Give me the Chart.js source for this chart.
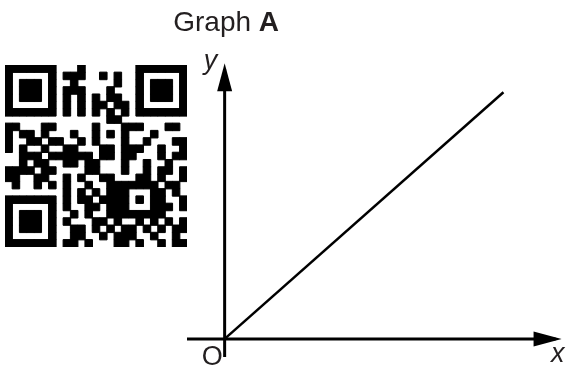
<!DOCTYPE html>
<html>
<head>
<meta charset="utf-8">
<script src="https://cdn.jsdelivr.net/npm/chart.js@4.4.1/dist/chart.umd.min.js"></script>
<style>
  body { margin: 0; background: #fff; }
  #wrap { position: relative; width: 570px; height: 372px; }
  #graph { position: absolute; left: 0; top: 0; }
  #qr { position: absolute; left: 5px; top: 65px; }
</style>
</head>
<body>
<div id="wrap">
  <canvas id="graph" width="570" height="372"></canvas>
  <canvas id="qr" width="182" height="182"></canvas>
</div>
<script>
// QR code modules, one string per row, 1 = dark
const qrRows = [
  '1111111000100000001111111',
  '1000001011100101001000001',
  '1011101001000001001011101',
  '1011101011100010001011101',
  '1011101010101011001011101',
  '1000001010101101101000001',
  '1111111010101010101111111',
  '0000000000000011000000000',
  '1100011000001000111000110',
  '1011010001001010100010000',
  '1001101100101000100100011',
  '1010010011000110111001001',
  '0011101111110110110001011',
  '0010110011011000100100100',
  '1111011000011000100101101',
  '1100110010100110001101001',
  '0100101010010011111110110',
  '0000000010101011100011010',
  '1111111010110111101011001',
  '1000001010011011100011101',
  '1011101001010011111111000',
  '1011101010001101001010101',
  '1011101001101010110101011',
  '1000001001100101110010010',
  '1111111011010001101001011'
];

// Graph A, in graph units (origin at 0,0)
const xRange = [-1.35, 12.1];
const yRange = [-0.65, 9.9];
const xAxisLine = [-1.35, 11.87]; // drawn along y = 0
const yAxisLine = [-0.65, 9.68];  // drawn along x = 0
const lineX = [0, 10];
const lineY = [0, 8.85];

const titleText = 'Graph ';
const titleBold = 'A';
const xLabel = 'x';
const yLabel = 'y';
const originLabel = 'O';

const FONT = "'Liberation Sans', Arial, sans-serif";
const TEXT_COLOR = '#231f20';

// filled arrow head at the last point of datasets flagged with arrow: true
const arrowHeads = {
    id: 'arrowHeads',
    afterDatasetsDraw(chart) {
        const ctx = chart.ctx;
        chart.data.datasets.forEach((ds, i) => {
            if (!ds.arrow) return;
            const pts = chart.getDatasetMeta(i).data;
            const a = pts[pts.length - 2], b = pts[pts.length - 1];
            const dx = b.x - a.x, dy = b.y - a.y;
            const len = Math.hypot(dx, dy);
            const ux = dx / len, uy = dy / len;
            const tipX = b.x + ux * 6, tipY = b.y + uy * 6;
            const baseX = tipX - ux * 28, baseY = tipY - uy * 28;
            ctx.save();
            ctx.fillStyle = '#000';
            ctx.beginPath();
            ctx.moveTo(tipX, tipY);
            ctx.lineTo(baseX - uy * 7.5, baseY + ux * 7.5);
            ctx.lineTo(baseX + uy * 7.5, baseY - ux * 7.5);
            ctx.closePath();
            ctx.fill();
            ctx.restore();
        });
    }
};

// title and axis letters
const graphLabels = {
    id: 'graphLabels',
    afterDraw(chart) {
        const ctx = chart.ctx;
        const sx = chart.scales.x, sy = chart.scales.y;
        const ox = sx.getPixelForValue(0), oy = sy.getPixelForValue(0);
        ctx.save();
        ctx.fillStyle = TEXT_COLOR;
        ctx.textBaseline = 'alphabetic';

        // title: "Graph " normal + "A" bold
        ctx.font = '28px ' + FONT;
        const w1 = ctx.measureText(titleText).width;
        ctx.font = 'bold 28px ' + FONT;
        const w2 = ctx.measureText(titleBold).width;
        const start = ox + 1.5 - (w1 + w2) / 2;
        ctx.textAlign = 'left';
        ctx.font = '28px ' + FONT;
        ctx.fillText(titleText, start, 31);
        ctx.font = 'bold 28px ' + FONT;
        ctx.fillText(titleBold, start + w1, 31);

        // origin
        ctx.font = '27px ' + FONT;
        ctx.textAlign = 'right';
        ctx.fillText(originLabel, ox - 2, oy + 26);

        // axis names
        ctx.font = 'italic 27px ' + FONT;
        ctx.textAlign = 'left';
        ctx.fillText(xLabel, sx.getPixelForValue(xRange[1]) - 11, oy + 23);
        ctx.fillText(yLabel, ox - 21, sy.getPixelForValue(yRange[1]) + 6);
        ctx.restore();
    }
};

new Chart(document.getElementById('graph').getContext('2d'), {
    type: 'scatter',
    data: {
        datasets: [
            {
                data: [{ x: xAxisLine[0], y: 0 }, { x: xAxisLine[1], y: 0 }],
                showLine: true, borderColor: '#000', borderWidth: 3,
                pointRadius: 0, clip: false, arrow: true
            },
            {
                data: [{ x: 0, y: yAxisLine[0] }, { x: 0, y: yAxisLine[1] }],
                showLine: true, borderColor: '#000', borderWidth: 3,
                pointRadius: 0, clip: false, arrow: true
            },
            {
                data: lineX.map((x, i) => ({ x: x, y: lineY[i] })),
                showLine: true, borderColor: '#000', borderWidth: 2.5,
                pointRadius: 0, clip: false
            }
        ]
    },
    options: {
        responsive: false,
        animation: false,
        devicePixelRatio: 1,
        layout: { autoPadding: false, padding: { left: 187, right: 8, top: 63, bottom: 15 } },
        plugins: { legend: { display: false }, tooltip: { enabled: false } },
        scales: {
            x: { type: 'linear', min: xRange[0], max: xRange[1], display: false },
            y: { type: 'linear', min: yRange[0], max: yRange[1], display: false }
        }
    },
    plugins: [arrowHeads, graphLabels]
});

// QR code as square points on a 25 x 25 grid
const qrPoints = [];
qrRows.forEach((row, r) => {
    row.split('').forEach((v, c) => {
        if (v === '1') qrPoints.push({ x: c, y: r });
    });
});

new Chart(document.getElementById('qr').getContext('2d'), {
    type: 'scatter',
    data: {
        datasets: [{
            data: qrPoints,
            pointStyle: 'rect',
            pointRadius: 5.35,
            borderWidth: 1,
            borderColor: '#000',
            backgroundColor: '#000',
            clip: false
        }]
    },
    options: {
        responsive: false,
        animation: false,
        devicePixelRatio: 1,
        layout: { autoPadding: false, padding: 0 },
        plugins: { legend: { display: false }, tooltip: { enabled: false } },
        scales: {
            x: { type: 'linear', min: -0.5, max: 24.5, display: false },
            y: { type: 'linear', min: -0.5, max: 24.5, reverse: true, display: false }
        }
    }
});
</script>
</body>
</html>
